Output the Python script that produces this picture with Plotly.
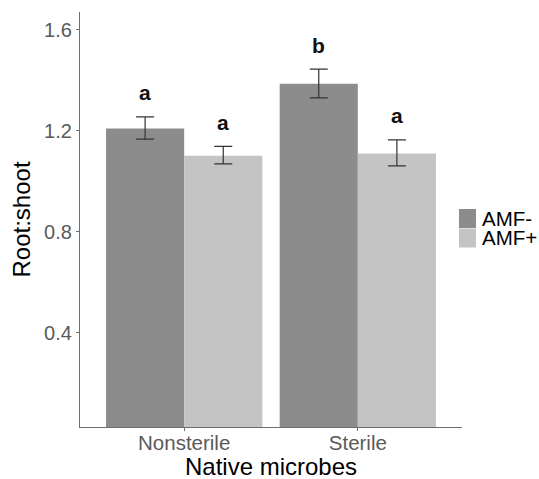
import plotly.graph_objects as go

categories = ["Nonsterile", "Sterile"]
amf_minus = [1.209, 1.386]
amf_minus_err_hi = [0.046, 0.058]
amf_minus_err_lo = [0.042, 0.056]
amf_plus = [1.101, 1.110]
amf_plus_err_hi = [0.037, 0.054]
amf_plus_err_lo = [0.032, 0.049]
letters_minus = ["a", "b"]
letters_plus = ["a", "a"]
series_names = ["AMF-", "AMF+"]
series_colors = ["#8c8c8c", "#c4c4c4"]

FONT = "Liberation Sans, Arial, sans-serif"

fig = go.Figure()
fig.add_trace(go.Bar(
    name=series_names[0], x=categories, y=amf_minus, marker_color=series_colors[0], marker_line_width=0,
    error_y=dict(type="data", symmetric=False, array=amf_minus_err_hi, arrayminus=amf_minus_err_lo,
                 color="#333333", thickness=1.2, width=9),
    offsetgroup="m",
))
fig.add_trace(go.Bar(
    name=series_names[1], x=categories, y=amf_plus, marker_color=series_colors[1], marker_line_width=0,
    error_y=dict(type="data", symmetric=False, array=amf_plus_err_hi, arrayminus=amf_plus_err_lo,
                 color="#333333", thickness=1.2, width=9),
    offsetgroup="p",
))

# significance letters
for i, c in enumerate(categories):
    fig.add_annotation(x=c, y=amf_minus[i] + amf_minus_err_hi[i], text="<b>%s</b>" % letters_minus[i],
                       xshift=-39, yshift=24, showarrow=False,
                       font=dict(family=FONT, size=21, color="#111111"))
    fig.add_annotation(x=c, y=amf_plus[i] + amf_plus_err_hi[i], text="<b>%s</b>" % letters_plus[i],
                       xshift=39, yshift=24, showarrow=False,
                       font=dict(family=FONT, size=21, color="#111111"))

W, H = 539, 479
L, R, T, B = 80, 77, 12, 52
PW, PH = W - L - R, H - T - B

# manual legend (ggplot style keys)
for k, (nm, col) in enumerate(zip(series_names, series_colors)):
    y0 = 209 + 19.5 * k
    fig.add_shape(type="rect", xref="paper", yref="paper",
                  x0=(459 - L) / PW, x1=(476 - L) / PW,
                  y0=(H - B - (y0 + 19)) / PH, y1=(H - B - y0) / PH,
                  fillcolor=col, line_width=0, layer="above")
    fig.add_annotation(xref="paper", yref="paper",
                       x=(481 - L) / PW, y=(H - B - (y0 + 9.5)) / PH,
                       xanchor="left", yanchor="middle", text=nm, showarrow=False,
                       borderpad=0,
                       font=dict(family=FONT, size=20.5, color="black"))

# x axis title
fig.add_annotation(xref="paper", yref="paper", x=0.5, y=-(466.5 - (H - B)) / PH,
                   xanchor="center", yanchor="middle", text="Native microbes", showarrow=False,
                   borderpad=0,
                   font=dict(family=FONT, size=24, color="black"))

fig.update_layout(
    width=W, height=H,
    margin=dict(l=L, r=R, t=T, b=B, autoexpand=False),
    plot_bgcolor="white", paper_bgcolor="white",
    barmode="group", bargap=0.1, bargroupgap=0,
    font=dict(family=FONT, color="#4d4d4d"),
    showlegend=False,
    xaxis=dict(
        range=[-0.6, 1.6], showline=True, linecolor="#6e6e6e", linewidth=1.3,
        ticks="outside", ticklen=3, tickcolor="#6e6e6e", automargin=False,
        ticklabelstandoff=-6,
        tickfont=dict(size=20.5, color="#5a5a5a"), showgrid=False, zeroline=False,
    ),
    yaxis=dict(
        range=[0.028, 1.67], showline=True, linecolor="#6e6e6e", linewidth=1.3,
        ticks="outside", ticklen=3, tickcolor="#6e6e6e", automargin=False,
        tickvals=[0.4, 0.8, 1.2, 1.6], ticktext=["0.4", "0.8", "1.2", "1.6"],
        tickfont=dict(size=20, color="#5a5a5a"), showgrid=False, zeroline=False,
        title=dict(text="Root:shoot", font=dict(size=24, color="black"), standoff=6),
    ),
)

fig.write_html("out.html", config={"displayModeBar": False},
               post_script="document.body.style.margin='0';document.body.style.overflow='hidden';")
